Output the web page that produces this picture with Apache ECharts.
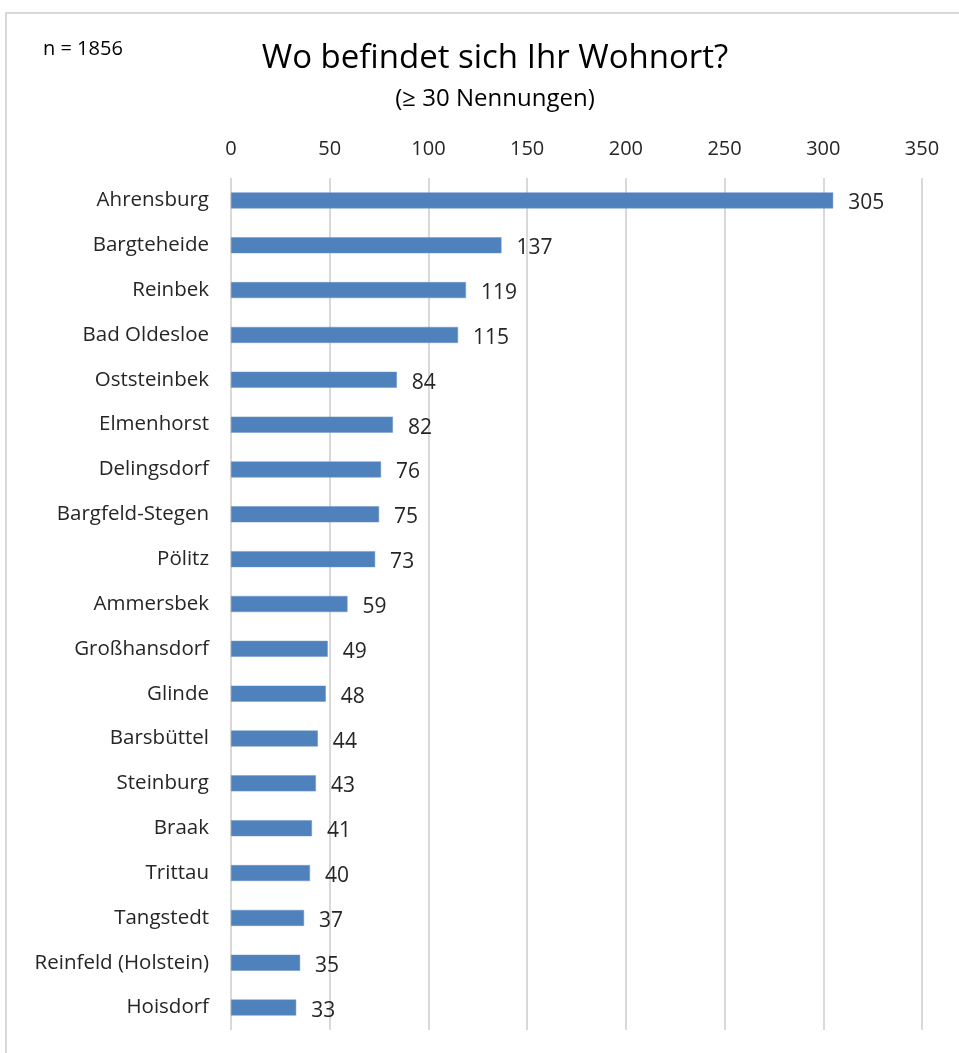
<!DOCTYPE html>
<html>
<head>
<meta charset="utf-8">
<script src="https://cdn.jsdelivr.net/npm/echarts@6/dist/echarts.min.js"></script>
<style>
html,body{margin:0;padding:0;background:#fff;}
#frame{position:absolute;left:5px;top:12px;width:960px;height:1050px;border:2px solid #d9d9d9;box-sizing:border-box;}
#chart{position:absolute;left:0;top:0;width:959px;height:1053px;}
</style>
</head>
<body>
<div id="frame"></div>
<div id="chart"></div>
<script>
const categories = ["Ahrensburg","Bargteheide","Reinbek","Bad Oldesloe","Oststeinbek","Elmenhorst","Delingsdorf","Bargfeld-Stegen","Pölitz","Ammersbek","Großhansdorf","Glinde","Barsbüttel","Steinburg","Braak","Trittau","Tangstedt","Reinfeld (Holstein)","Hoisdorf"];
const values = [305,137,119,115,84,82,76,75,73,59,49,48,44,43,41,40,37,35,33];
const titleText = "Wo befindet sich Ihr Wohnort?";
const subtitleText = "(≥ 30 Nennungen)";
const noteText = "n = 1856";

const FONT = "'Open Sans', sans-serif";
const chart = echarts.init(document.getElementById('chart'), null, {renderer:'canvas'});
chart.setOption({
  backgroundColor: 'transparent',
  animation: false,
  title: [
    {text: titleText, left: 490, top: 37, textAlign: 'center',
     textStyle: {fontFamily: FONT, fontSize: 33, fontWeight: 'normal', color: '#000'}},
    {text: subtitleText, left: 490, top: 82, textAlign: 'center',
     textStyle: {fontFamily: FONT, fontSize: 24, fontWeight: 'normal', color: '#000'}},
    {text: noteText, left: 38, top: 34,
     textStyle: {fontFamily: FONT, fontSize: 20, fontWeight: 'normal', color: '#000'}}
  ],
  grid: {left: 231, right: 37, top: 178, bottom: 23, containLabel: false},
  xAxis: {
    type: 'value', position: 'top', min: 0, max: 350, interval: 50,
    axisLine: {show: false}, axisTick: {show: false},
    axisLabel: {fontFamily: FONT, fontSize: 20, color: '#262626', margin: 19},
    splitLine: {show: true, lineStyle: {color: '#d9d9d9', width: 2}}
  },
  yAxis: {
    type: 'category', data: categories, inverse: true,
    axisLine: {show: false}, axisTick: {show: false},
    axisLabel: {fontFamily: FONT, fontSize: 20.5, color: '#262626', margin: 22, padding: [5, 0, 0, 0]}
  },
  series: [{
    type: 'bar', data: values, barWidth: 16,
    itemStyle: {color: '#4f81bd', borderColor: '#6a95c9', borderWidth: 0.5},
    label: {show: true, position: 'right', distance: 15, offset: [0, 3],
            fontFamily: FONT, fontSize: 21, color: '#262626'}
  }]
});
</script>
</body>
</html>
